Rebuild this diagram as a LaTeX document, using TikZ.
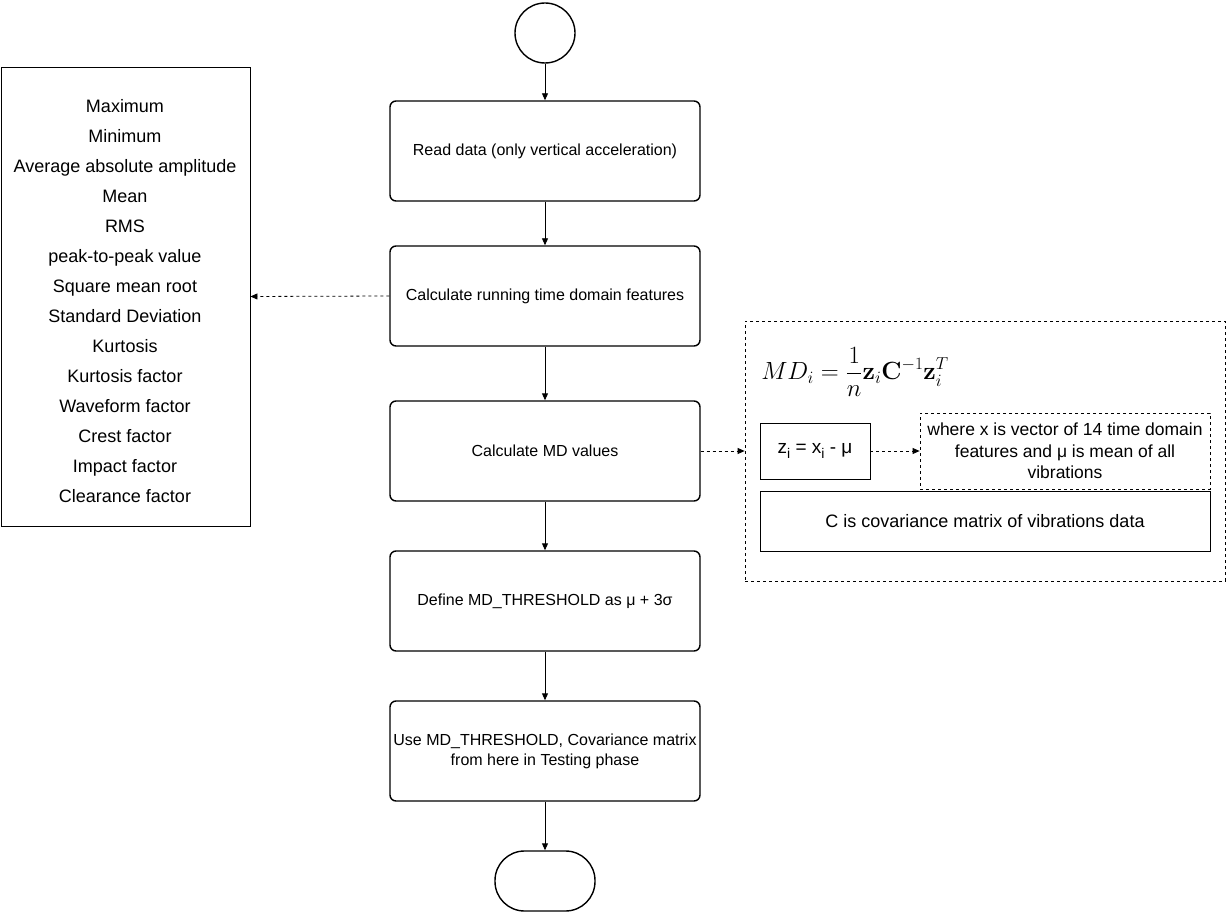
\documentclass[tikz,border=0pt]{standalone}
\usepackage[no-math]{fontspec}
\setmainfont{Liberation Sans}
\usetikzlibrary{arrows.meta}
\newcommand{\lowi}{\raisebox{-0.28em}{\fontsize{14}{14}\selectfont i}}
\begin{document}
\begin{tikzpicture}[x=1pt, y=-1pt,
    stepbox/.style={draw, line width=1.4pt, rounded corners=6pt, minimum width=310pt, minimum height=100pt, align=center, font=\fontsize{16}{20}\selectfont},
    plainbox/.style={draw, line width=0.9pt},
    dashbox/.style={draw, line width=0.8pt, dash pattern=on 3pt off 3pt},
    flow/.style={-{Triangle[length=7pt,width=6pt]}, line width=0.9pt},
    hint/.style={flow, line width=0.8pt, dash pattern=on 3pt off 3pt}]
    \useasboundingbox (0,0) rectangle (1226,912);
    % Start and end
    \node[draw, circle, line width=1.4pt, minimum size=60pt, inner sep=0pt] (start) at (545,33) {};
    \node[draw, rounded corners=29.5pt, line width=1.4pt, minimum width=100pt, minimum height=60pt] (stop) at (545,881) {};

    % Main steps
    \node[stepbox] (read) at (545,151) {Read data (only vertical acceleration)};
    \node[stepbox] (feat) at (545,296) {Calculate running time domain features};
    \node[stepbox] (md) at (545,451) {Calculate MD values};
    \node[stepbox] (thr) at (545,601) {Define MD\_THRESHOLD as μ + 3σ};
    \node[stepbox] (use) at (545,751) {Use MD\_THRESHOLD, Covariance matrix\\from here in Testing phase};

    \draw[flow] (start) -- (read);
    \draw[flow] (read) -- (feat);
    \draw[flow] (feat) -- (md);
    \draw[flow] (md) -- (thr);
    \draw[flow] (thr) -- (use);
    \draw[flow] (use) -- (stop);

    % Features list
    \node[plainbox, minimum width=249pt, minimum height=459pt] (featbox) at (125.5,296.5) {};
    \node[align=center, font=\fontsize{18}{30}\selectfont] (featlist) at (125,301) {Maximum\\Minimum\\Average absolute amplitude\\Mean\\RMS\\peak-to-peak value\\Square mean root\\Standard Deviation\\Kurtosis\\Kurtosis factor\\Waveform factor\\Crest factor\\Impact factor\\Clearance factor};
    \draw[hint] (feat.west) -- (featbox.east);

    % MD definition
    \node[dashbox, minimum width=480pt, minimum height=260pt] (mdgroup) at (985,451) {};
    \node (formula) at (855,372) {\fontsize{24}{28}\selectfont $\displaystyle MD_i=\frac{1}{n}\mathbf{z}_i\mathbf{C}^{-1}\mathbf{z}_i^T$};
    \node[plainbox, minimum width=110pt, minimum height=56pt, font=\fontsize{19}{22}\selectfont] (zdef) at (815,451) {z\lowi{} = x\lowi{} - μ};
    \node[dashbox, minimum width=290pt, minimum height=76pt, inner sep=1pt, align=center, font=\fontsize{17.5}{21.5}\selectfont] (xdef) at (1065,451) {where x is vector of 14 time domain\\features and μ is mean of all\\vibrations};
    \node[plainbox, minimum width=450pt, minimum height=60pt, font=\fontsize{18}{22}\selectfont] (cdef) at (985,521) {C is covariance matrix of vibrations data};
    \draw[hint] (md.east) -- (mdgroup.west);
    \draw[hint] (zdef) -- (xdef);
\end{tikzpicture}
\end{document}
